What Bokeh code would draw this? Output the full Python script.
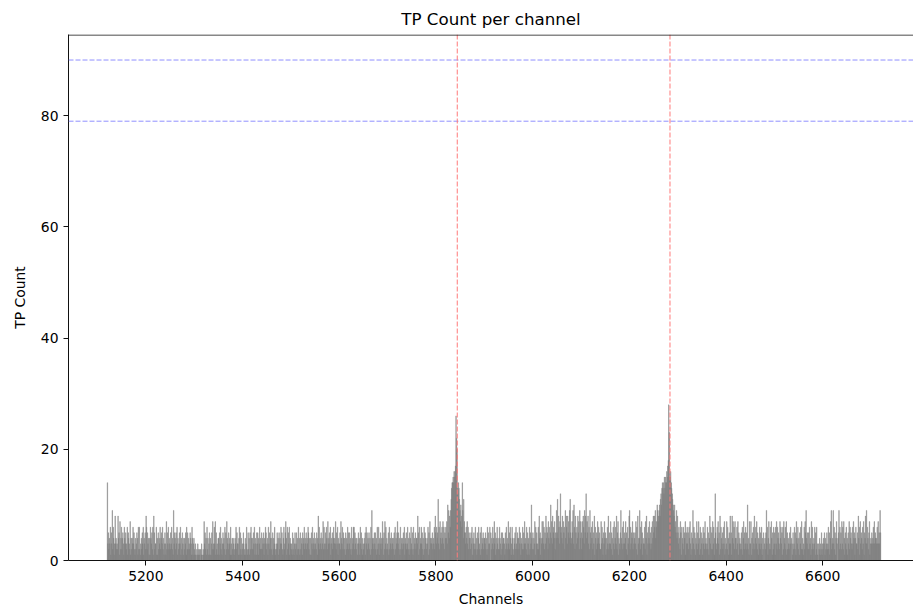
import numpy as np
from bokeh.plotting import figure
from bokeh.models import Range1d, Span, FixedTicker, ColumnDataSource
from bokeh.embed import file_html
from bokeh.resources import INLINE

# ---- data ----
first_channel = 5120
# TP count per channel, one character per channel (base 36: a=10, b=11, ...)
count_rows = [
    "e352436153 9264138342 3284517246 2453164352 3615432714 2436352142 3541626213 4253614352 8625341416 4352618523",
    "3614152436 2453624135 3172536243 2536241935 4253614235 3614253142 4351625243 2543164134 2131021312 1202131021",
    "7352416241 3514135273 2637152314 4153624135 3426152743 2534163142 4312436253 3146152413 2531241362 1524152642",
    "4253614315 3514362425 2435143652 3416352472 4152436213 2534152436 3521462357 4162536143 2315241352 3514262415",
    "2431543624 3524365241 4153624352 3425148362 4352437263 2536427345 3614352463 4372536143 3527436254 2415243625",
    "3524162436 6253424135 3416352413 2435163524 3524162943 4253524162 3614352437 4152736243 2516243524 3425162435",
    "7352416243 4253614352 3624152463 2516243524 4385162436 3524162543 2436152743 4352436285 3645b36274 5364736254",
    "6473a59486 9bdeefegfg hqmkdcedb9 7a86e94b75 5364736254 4253614352 3624152463 2516243524 4352416253 3605243624",
    "7351426342 2643152534 4315263427 3526413642 1435263254 4263514326 2537342615 3416253a42 5243716352 3628451437",
    "4736253846 5274635a47 3856472549 5b48637c56 4837562948 6385749b53 47593a6285 3648572947 5274863958 c475836295",
    "3647253816 4253746352 2736415374 5142638253 3725416372 4638257143 2594362735 3472516348 9263547253 4537261834",
    "4926375143 3627481536 4735263748 5869476a97 89a8bcaded ecfdfeegfh isnffgedcb a98a675948 5364275164 3625471536",
    "3526473152 4936251437 2537416253 4163527342 3625148362 5273614c53 2647351826 4352637142 3726415383 5184736274",
    "4263715342 3526147253 6253a24173 3714526382 4637251436 2536142503 4259361472 3627415263 5163726453 2746351627",
    "4362715243 2536043152 3625174362 4153627241 3627594352 5263417263 2436152631 0324132513 2435142352 3625147923",
    "4936251473 0459263527 3627415362 4153726453 2637451463 3528461735 4263715483 9364257134 3534637354 4363735395",
]
threshold_lines = [79, 90]          # horizontal dashed lines (TP count)
marker_channels = [5844, 6284]      # vertical dashed lines (channels)
x_ticks = [5200, 5400, 5600, 5800, 6000, 6200, 6400, 6600]
y_ticks = [0, 20, 40, 60, 80]
title_text = "TP Count per channel"
x_label = "Channels"
y_label = "TP Count"

counts = [int(ch, 36) for row in count_rows for ch in "".join(row.split())]
channels = first_channel + np.arange(len(counts))

src = ColumnDataSource(dict(x=channels + 0.5, top=counts))

FONT = "DejaVu Sans"
X0, X1 = 5040, 6787.6
Y0, Y1 = 0, 94.59

p = figure(width=913, height=611,
           x_range=Range1d(X0, X1), y_range=Range1d(Y0, Y1),
           output_backend="svg", toolbar_location=None,
           min_border_left=68, min_border_right=0,
           min_border_bottom=51, min_border_top=34,
           background_fill_color="white", border_fill_color="white")

p.title.text = title_text
p.title.align = "center"
p.title.text_font = FONT
p.title.text_font_size = "16.7px"
p.title.text_font_style = "normal"
p.title.text_color = "black"
p.title.standoff = 12

p.vbar(x="x", top="top", bottom=0, width=1.0, source=src,
       fill_color="gray", line_color="gray", line_width=0.4)

for y in threshold_lines:
    p.add_layout(Span(location=y, dimension="width", line_color="#9090ff",
                      line_dash="5 2", line_width=1))
for x in marker_channels:
    p.add_layout(Span(location=x, dimension="height", line_color="#ff7a7a",
                      line_dash="5 2", line_width=1))

# matplotlib-like frame: left, bottom and top spines (right spine lies off-page)
p.outline_line_color = None
p.add_layout(Span(location=Y1 - 0.09, dimension="width",
                  line_color="#111111", line_width=1))

p.grid.visible = False

for ax in (p.xaxis[0], p.yaxis[0]):
    ax.axis_line_color = "#111111"
    ax.major_tick_line_color = "#111111"
    ax.major_tick_out = 5
    ax.major_tick_in = 0
    ax.minor_tick_line_color = None
    ax.major_label_text_font = FONT
    ax.major_label_text_font_size = "13.9px"
    ax.major_label_text_color = "black"
    ax.axis_label_text_font = FONT
    ax.axis_label_text_font_size = "13.9px"
    ax.axis_label_text_font_style = "normal"
    ax.axis_label_text_color = "black"

p.xaxis.ticker = FixedTicker(ticks=x_ticks)
p.yaxis.ticker = FixedTicker(ticks=y_ticks)
p.xaxis.axis_label = x_label
p.yaxis.axis_label = y_label
p.xaxis.axis_label_standoff = 7
p.yaxis.axis_label_standoff = 10

open("out.html", "w").write(file_html(p, INLINE))
